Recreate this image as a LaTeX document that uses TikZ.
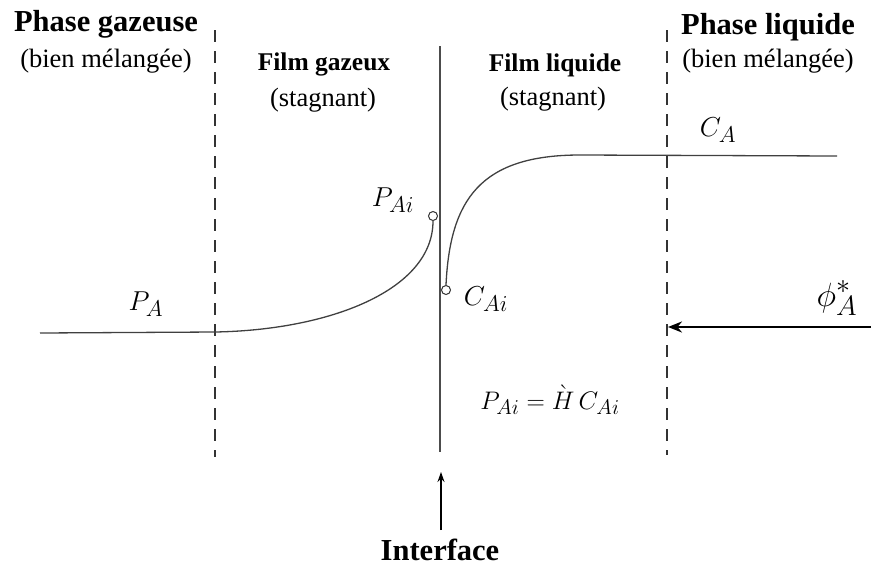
\documentclass[tikz,border=0pt]{standalone}
\usepackage{graphicx}
\usepackage{fontspec}
\setmainfont{Liberation Serif}
\usetikzlibrary{arrows.meta}
\newcommand{\mlab}[1]{\scalebox{1.1}{$#1$}}
\begin{document}
\begin{tikzpicture}[x=1pt,y=-1pt,
  hdr/.style={font=\fontsize{30.5}{32}\selectfont\bfseries, inner sep=0pt},
  film/.style={font=\fontsize{25.5}{28}\selectfont\bfseries, inner sep=0pt},
  sub/.style={font=\fontsize{26.5}{28}\selectfont, inner sep=0pt},
  lab/.style={font=\fontsize{24.88}{28}\selectfont, inner sep=0pt},
  dsh/.style={line width=1.4pt, dash pattern=on 12pt off 9pt, black!80},
  crv/.style={line width=1.3pt, black!75},
  pt/.style={circle, draw=black!80, line width=1pt, fill=white, minimum size=9pt, inner sep=0pt}]
\useasboundingbox (0,0) rectangle (871,566);
% titles
\node[hdr] (pg) at (106,24) {Phase gazeuse};
\node[sub] (pgs) at (106,61) {(bien mélangée)};
\node[film] (fg) at (324,64) {Film gazeux};
\node[sub] (fgs) at (323,100) {(stagnant)};
\node[film] (fl) at (555,65) {Film liquide};
\node[sub] (fls) at (553,99) {(stagnant)};
\node[hdr] (pl) at (768,27) {Phase liquide};
\node[sub] (pls) at (768,61) {(bien mélangée)};
\node[hdr] (itf) at (440,550) {Interface};
% boundaries
\coordinate (d1t) at (215,30); \coordinate (d1b) at (215,457);
\coordinate (d2t) at (667,30); \coordinate (d2b) at (667,455);
\coordinate (it) at (440,46); \coordinate (ib) at (440,452);
\draw[dsh] (d1t) -- (d1b);
\draw[dsh] (d2t) -- (d2b);
\draw[line width=1.5pt, black!70] (it) -- (ib);
% interface arrow
\coordinate (ia0) at (441,530); \coordinate (ia1) at (441,472);
\draw[line width=1.2pt, -{Stealth[length=10pt,width=7pt]}] (ia0) -- (ia1);
% profiles
\coordinate (pa0) at (40,333);
\coordinate (pa1) at (215,332);
\node[pt] (pai) at (433,216) {};
\draw[crv] (pa0) -- (pa1) .. controls (330,330) and (433,290) .. (pai.south);
\node[pt] (cai) at (446,290) {};
\coordinate (ca1) at (580,155);
\coordinate (ca2) at (837,156);
\draw[crv] (cai.north) .. controls (450,200) and (480,155) .. (ca1) -- (ca2);
% labels
\node[lab] (lpa) at (146,304) {\mlab{P_A}};
\node[lab] (lpai) at (393,200) {\mlab{P_{Ai}}};
\node[lab] (lcai) at (486,299) {\mlab{C_{Ai}}};
\node[lab] (lca) at (718,130) {\mlab{C_A}};
\node[lab] (eq) at (550,400) {\scalebox{1.02}{$P_{Ai}=\grave{H}\,C_{Ai}$}};
\node[lab] (phi) at (837,298) {\scalebox{1.35}{$\phi_A^*$}};
% flux arrow
\coordinate (f0) at (871,327); \coordinate (f1) at (668,327);
\draw[line width=2.8pt, -{Stealth[length=14pt,width=11pt]}] (f0) -- (f1);
\end{tikzpicture}
\end{document}
